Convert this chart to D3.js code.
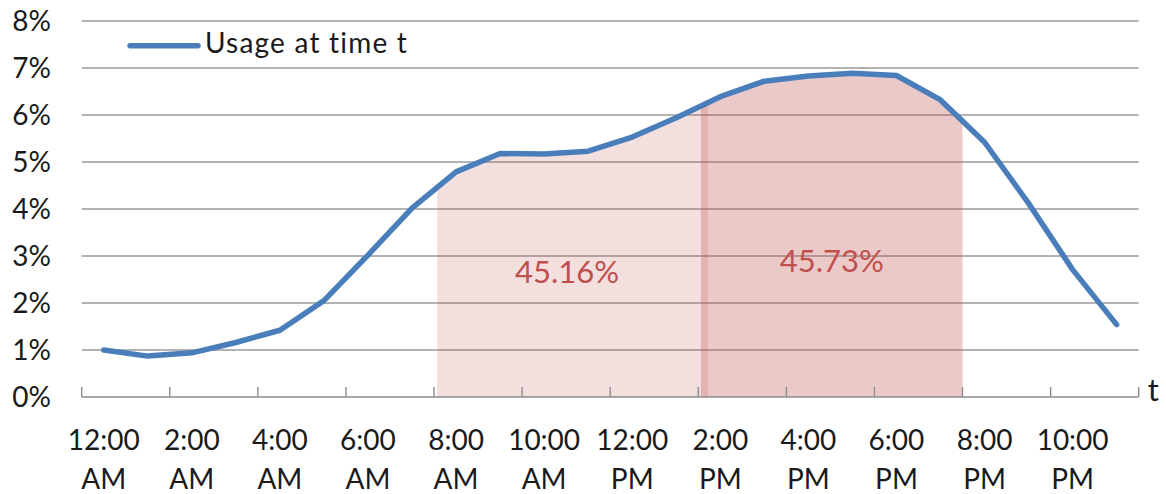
<!DOCTYPE html>
<html>
<head>
<meta charset="utf-8">
<script src="https://cdn.jsdelivr.net/npm/d3@7"></script>
<style>
  html, body { margin: 0; padding: 0; background: #ffffff; }
  svg { display: block; font-family: Lato, "Open Sans", sans-serif; }
</style>
</head>
<body>
<svg id="chart" width="1166" height="494"></svg>
<script>
// ---- data ----
const hours = d3.range(24);
const usage = [1.00, 0.87, 0.94, 1.16, 1.42, 2.05, 3.02, 4.02, 4.79, 5.18, 5.17, 5.23,
               5.53, 5.94, 6.39, 6.72, 6.83, 6.89, 6.84, 6.32, 5.42, 4.12, 2.71, 1.54];
const tickLabelsTop = ["12:00", "2:00", "4:00", "6:00", "8:00", "10:00",
                       "12:00", "2:00", "4:00", "6:00", "8:00", "10:00"];
const tickLabelsBottom = ["AM", "AM", "AM", "AM", "AM", "AM",
                          "PM", "PM", "PM", "PM", "PM", "PM"];
const yTicks = [0, 1, 2, 3, 4, 5, 6, 7, 8];
const seriesName = "Usage at time t";
const shadeLight = [8.07, 14.22];   // in hour-boundary units
const shadeDark = [14.06, 20.0];
const shareLabels = ["45.16%", "45.73%"];
const shareLabelPos = [[11.02, 2.43], [17.03, 2.66]]; // [hour-boundary, value]

// ---- layout ----
const svg = d3.select("#chart");
const plotLeft = 81.7, plotRight = 1138.7, plotTop = 21, plotBottom = 397;

const x = d3.scaleBand().domain(hours).range([plotLeft, plotRight]).padding(0);
const bw = x.bandwidth();
const xc = h => x(h) + bw / 2;
const xb = u => plotLeft + u * bw; // boundary units -> pixel
const y = d3.scaleLinear().domain([0, 8]).range([plotBottom, plotTop]);

// gridlines
svg.append("g").selectAll("line").data(yTicks.filter(d => d > 0)).join("line")
  .attr("x1", plotLeft).attr("x2", plotRight)
  .attr("y1", d => y(d)).attr("y2", d => y(d))
  .attr("stroke", "#9a9a9a").attr("stroke-width", 1.4);

// shaded areas: area under line clipped to a boundary range
function valueAt(u) {
  const p = u - 0.5;
  const i = Math.max(0, Math.min(22, Math.floor(p)));
  const t = p - i;
  return usage[i] + (usage[i + 1] - usage[i]) * t;
}
function shadePts(range) {
  const pts = [[range[0], valueAt(range[0])]];
  hours.forEach(h => { const u = h + 0.5; if (u > range[0] && u < range[1]) pts.push([u, usage[h]]); });
  pts.push([range[1], valueAt(range[1])]);
  return pts;
}
const area = d3.area().x(d => xb(d[0])).y0(y(0)).y1(d => y(d[1]));
svg.append("path").attr("d", area(shadePts(shadeLight)))
  .attr("fill", "#c0504d").attr("fill-opacity", 0.18);
svg.append("path").attr("d", area(shadePts(shadeDark)))
  .attr("fill", "#c0504d").attr("fill-opacity", 0.31);

// x axis line and ticks
svg.append("line").attr("x1", plotLeft).attr("x2", plotRight)
  .attr("y1", y(0)).attr("y2", y(0))
  .attr("stroke", "#8c8c8c").attr("stroke-width", 1.4);
svg.append("g").selectAll("line").data(d3.range(0, 25, 2)).join("line")
  .attr("x1", d => xb(d)).attr("x2", d => xb(d))
  .attr("y1", y(0)).attr("y2", y(0) - 10)
  .attr("stroke", "#8c8c8c").attr("stroke-width", 1.4);

// line
const line = d3.line().x((d, i) => xc(i)).y(d => y(d));
svg.append("path").datum(usage).attr("d", line)
  .attr("fill", "none").attr("stroke", "#4a7ebb").attr("stroke-width", 5.5)
  .attr("stroke-linejoin", "round").attr("stroke-linecap", "round");

// y labels
svg.append("g").selectAll("text").data(yTicks).join("text")
  .attr("x", 51).attr("y", d => y(d) + 10)
  .attr("text-anchor", "end").attr("font-size", 28).attr("fill", "#1a1a1a")
  .text(d => d + "%");

// x labels
const xl = svg.append("g").selectAll("g").data(tickLabelsTop).join("g");
xl.append("text").attr("x", (d, i) => xc(i * 2)).attr("y", 450)
  .attr("text-anchor", "middle").attr("font-size", 28).attr("fill", "#1a1a1a")
  .text(d => d);
xl.append("text").attr("x", (d, i) => xc(i * 2)).attr("y", 489)
  .attr("text-anchor", "middle").attr("font-size", 28).attr("fill", "#1a1a1a")
  .text((d, i) => tickLabelsBottom[i]);

// axis title t
svg.append("text").attr("x", plotRight + 9).attr("y", 401)
  .attr("font-size", 31).attr("fill", "#1a1a1a").text("t");

// share labels
svg.append("g").selectAll("text").data(shareLabels).join("text")
  .attr("x", (d, i) => xb(shareLabelPos[i][0]))
  .attr("y", (d, i) => y(shareLabelPos[i][1]))
  .attr("text-anchor", "middle").attr("font-size", 31).attr("fill", "#c0504d")
  .text(d => d);

// legend
svg.append("line").attr("x1", 130).attr("x2", 198).attr("y1", 45.7).attr("y2", 45.7)
  .attr("stroke", "#4a7ebb").attr("stroke-width", 5.5).attr("stroke-linecap", "round");
svg.append("text").attr("x", 205).attr("y", 53).attr("font-size", 28)
  .attr("letter-spacing", 1.2)
  .attr("fill", "#1a1a1a").text(seriesName);
</script>
</body>
</html>
